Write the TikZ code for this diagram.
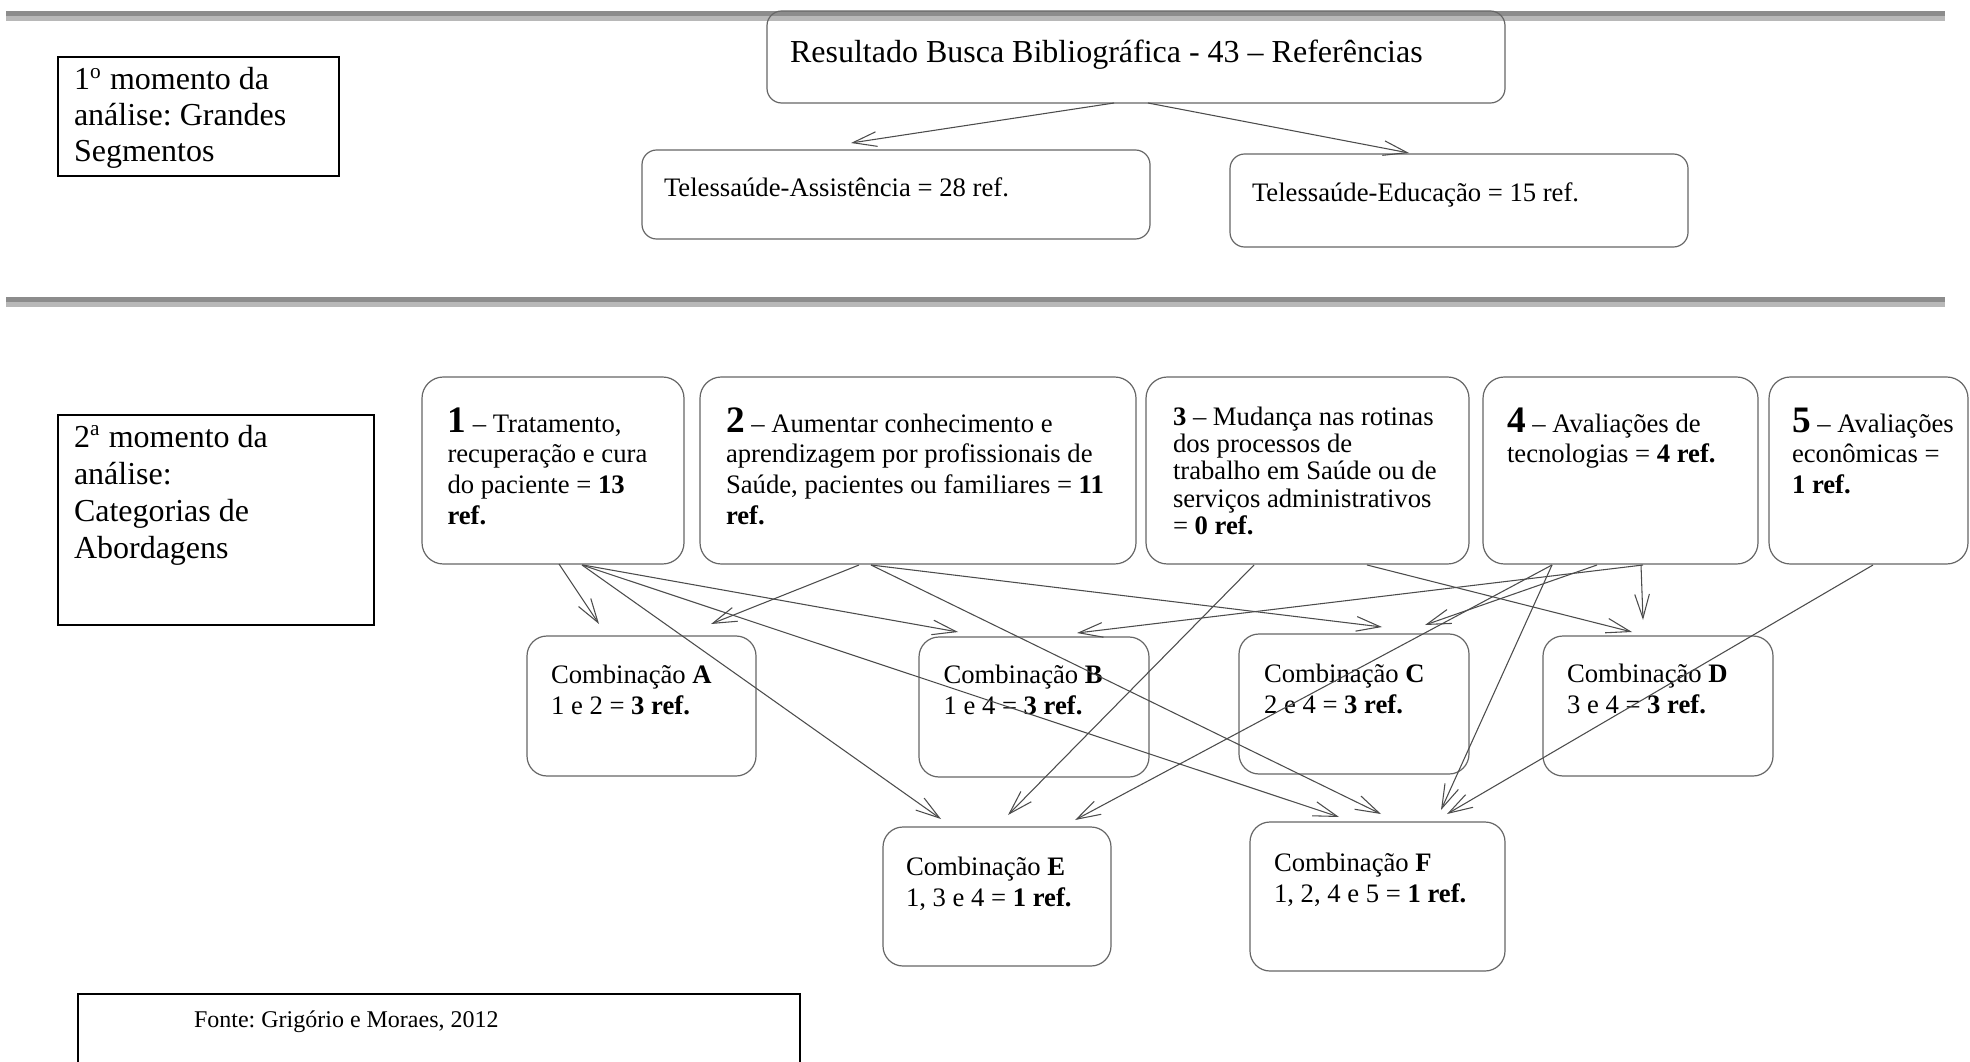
\documentclass[tikz,border=0pt]{standalone}
\usepackage{fontspec}
\setmainfont{Liberation Serif}
\usetikzlibrary{arrows.meta,calc}
\frenchspacing
\newcommand\tx[3]{\parbox[t]{500pt}{\frenchspacing\fontsize{#1}{#2}\selectfont #3}}
\newcommand\bigd[1]{{\fontsize{14}{14}\selectfont\bfseries #1}}
\begin{document}
\begin{tikzpicture}[x=0.375pt,y=-0.375pt,
  sz/.style 2 args={minimum width=#1*0.375pt, minimum height=#2*0.375pt},
  rbox/.style={draw=black!60, line width=0.45pt, rounded corners=#1, inner sep=0pt, outer sep=0pt, anchor=north west},
  hbox/.style={draw=black, line width=1pt, inner sep=0pt, outer sep=0pt, anchor=north west},
  txt/.style={inner sep=0pt, outer sep=0pt, anchor=base west, text=black},
  conn/.style={draw=black!70, line width=0.4pt, -{Straight Barb[length=9pt,width=5.5pt]}}]
\useasboundingbox (0,0) rectangle (1970,1062);
% separator bars
\fill[black!45] (6,11) rectangle (1945,16);
\fill[black!28] (6,16) rectangle (1945,21);
\fill[black!45] (6,297) rectangle (1945,302);
\fill[black!28] (6,302) rectangle (1945,307);

% ---------- first moment ----------
\node[hbox, sz={281}{119}] (mom1) at (58,57) {};
\node[txt] (mom1t) at (74,90) {\tx{12}{13.5}{1\textsuperscript{o} momento da\\análise: Grandes\\Segmentos}};

\node[rbox=5.5pt, sz={738}{92}] (res) at (767,11) {};
\node[txt] (rest) at (790,63) {\tx{12}{13.5}{Resultado Busca Bibliográfica - 43 – Referências}};

\node[rbox=5.5pt, sz={508}{89}] (assist) at (642,150) {};
\node[txt] (assistt) at (664,197) {\tx{10}{11.5}{Telessaúde-Assistência = 28 ref.}};

\node[rbox=5.5pt, sz={458}{93}] (educ) at (1230,154) {};
\node[txt] (educt) at (1252,202) {\tx{10}{11.5}{Telessaúde-Educação = 15 ref.}};

\draw[conn] ($(res.south west)+(347,0)$) -- ($(assist.north west)+(209,-7)$);
\draw[conn] ($(res.south west)+(381,0)$) -- ($(educ.north west)+(179,-1)$);

% ---------- second moment ----------
\node[hbox, sz={316}{210}] (mom2) at (58,415) {};
\node[txt] (mom2t) at (74,447) {\tx{12}{13.9}{2\textsuperscript{a} momento da\\análise:\\Categorias de\\Abordagens}};

\node[rbox=8pt, sz={262}{187}] (c1) at (422,377) {};
\node[rbox=8pt, sz={436}{187}] (c2) at (700,377) {};
\node[rbox=8pt, sz={323}{187}] (c3) at (1146,377) {};
\node[rbox=8pt, sz={275}{187}] (c4) at (1483,377) {};
\node[rbox=8pt, sz={199}{187}] (c5) at (1769,377) {};

\node[txt] (c1t) at (447.5,432) {\tx{10}{11.6}{\bigd{1} – Tratamento,\\recuperação e cura\\do paciente = \textbf{13}\\\textbf{ref.}}};
\node[txt] (c2t) at (726,432) {\tx{10}{11.6}{\bigd{2} – Aumentar conhecimento e\\aprendizagem por profissionais de\\Saúde, pacientes ou familiares = \textbf{11}\\\textbf{ref.}}};
\node[txt] (c3t) at (1173,425) {\tx{10}{10.3}{\textbf{3} – Mudança nas rotinas\\dos processos de\\trabalho em Saúde ou de\\serviços administrativos\\= \textbf{0 ref.}}};
\node[txt] (c4t) at (1507,432) {\tx{10}{11.6}{\bigd{4} – Avaliações de\\tecnologias = \textbf{4 ref.}}};
\node[txt] (c5t) at (1792,432) {\tx{10}{11.6}{\bigd{5} – Avaliações\\econômicas =\\\textbf{1 ref.}}};

\node[rbox=7.5pt, sz={229}{140}] (cA) at (527,636) {};
\node[rbox=7.5pt, sz={230}{140}] (cB) at (919,637) {};
\node[rbox=7.5pt, sz={230}{140}] (cC) at (1239,634) {};
\node[rbox=7.5pt, sz={230}{140}] (cD) at (1543,636) {};
\node[rbox=7.5pt, sz={228}{139}] (cE) at (883,827) {};
\node[rbox=7.5pt, sz={255}{149}] (cF) at (1250,822) {};

\node[txt] (cAt) at (551,683) {\tx{10}{11.9}{Combinação \textbf{A}\\1 e 2 = \textbf{3 ref.}}};
\node[txt] (cBt) at (943.5,683) {\tx{10}{11.9}{Combinação \textbf{B}\\1 e 4 = \textbf{3 ref.}}};
\node[txt] (cCt) at (1264,682) {\tx{10}{11.9}{Combinação \textbf{C}\\2 e 4 = \textbf{3 ref.}}};
\node[txt] (cDt) at (1567,682) {\tx{10}{11.9}{Combinação \textbf{D}\\3 e 4 = \textbf{3 ref.}}};
\node[txt] (cEt) at (906,875) {\tx{10}{11.7}{Combinação \textbf{E}\\1, 3 e 4 = \textbf{1 ref.}}};
\node[txt] (cFt) at (1274,871) {\tx{10}{11.7}{Combinação \textbf{F}\\1, 2, 4 e 5 = \textbf{1 ref.}}};

% connectors
\draw[conn] ($(c1.south west)+(137,0)$) -- ($(cA.north west)+(72,-12)$);
\draw[conn] ($(c2.south west)+(159,1)$) -- ($(cA.north west)+(184,-12)$);
\draw[conn] ($(c1.south west)+(161,1)$) -- ($(cB.north west)+(39,-5)$);
\draw[conn] ($(c4.south west)+(160,1)$) -- ($(cB.north west)+(158,-4)$);
\draw[conn] ($(c2.south west)+(171,1)$) -- ($(cC.north west)+(143,-7)$);
\draw[conn] ($(c4.south west)+(114,1)$) -- ($(cC.north west)+(186,-9)$);
\draw[conn] ($(c3.south west)+(221,1)$) -- ($(cD.north west)+(89,-4)$);
\draw[conn] ($(c4.south west)+(158,1)$) -- ($(cD.north west)+(100,-16)$);
\draw[conn] ($(c1.south west)+(160,1)$) -- ($(cE.north west)+(58,-8)$);
\draw[conn] ($(c3.south west)+(108,1)$) -- ($(cE.north west)+(125,-12)$);
\draw[conn] ($(c4.south west)+(69,1)$) -- ($(cE.north west)+(192,-7)$);
\draw[conn] ($(c1.south west)+(160,1)$) -- ($(cF.north west)+(89,-5)$);
\draw[conn] ($(c2.south west)+(171,1)$) -- ($(cF.north west)+(131,-8)$);
\draw[conn] ($(c4.south west)+(69,1)$) -- ($(cF.north west)+(191,-12)$);
\draw[conn] ($(c5.south west)+(104,1)$) -- ($(cF.north west)+(197,-8)$);

% source
\node[hbox, sz={722}{90}] (fonte) at (78,994) {};
\node[txt] (fontet) at (194,1027) {\tx{9}{10.4}{Fonte: Grigório e Moraes, 2012}};
\end{tikzpicture}
\end{document}
